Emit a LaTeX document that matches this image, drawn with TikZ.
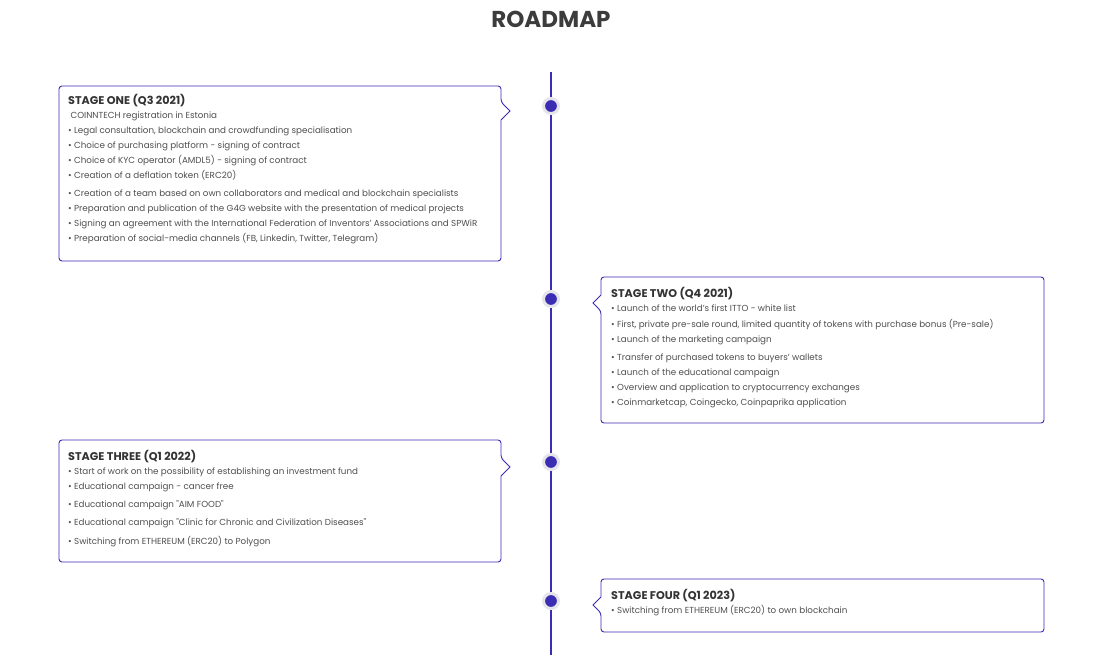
\documentclass[tikz,border=0pt]{standalone}
\usepackage{fontspec}
\setmainfont{Poppins}
\definecolor{navy}{HTML}{3A2DB3}
\definecolor{halo}{HTML}{E4E4EA}
\definecolor{titlegray}{HTML}{3C3C3C}
\definecolor{headgray}{HTML}{333333}
\definecolor{bodygray}{HTML}{4F4F4F}
\begin{document}
\begin{tikzpicture}[x=1pt,y=-1pt,
  body/.style={anchor=base west, inner sep=0pt, font=\fontsize{8.75}{10}\selectfont, text=bodygray},
  head/.style={anchor=base west, inner sep=0pt, font=\fontsize{11.2}{13}\selectfont\bfseries, text=headgray},
  boxline/.style={draw=navy, line width=0.9pt, fill=white, line join=miter},
  dot/.style={circle, fill=navy, draw=halo, line width=3pt, minimum size=15pt, inner sep=0pt},
  axis/.style={draw=navy, line width=1.4pt}]
\useasboundingbox (0,0) rectangle (1104,655);
\fill[white] (0,0) rectangle (1104,655);
\node[font=\fontsize{23}{27}\selectfont\bfseries, text=titlegray, inner sep=0pt] (title) at (551,19) {ROADMAP};
% timeline
\coordinate (top) at (551,72);
\coordinate (bottom) at (551,655);
\draw[axis] (top) -- (bottom);
\node[dot] (d1) at (551,106) {};
\node[dot] (d2) at (551,299) {};
\node[dot] (d3) at (551,462) {};
\node[dot] (d4) at (551,601) {};
% boxes
\draw[boxline, rounded corners=3pt] (59,86) -- (501,86) -- (501,102) [sharp corners] -- (510,111) -- (501,120) [rounded corners=3pt] -- (501,261) -- (59,261) -- cycle;
\draw[boxline, rounded corners=3pt] (601,277) -- (1044,277) -- (1044,423) -- (601,423) -- (601,311) [sharp corners] -- (593,303) -- (601,295) [rounded corners=3pt] -- cycle;
\draw[boxline, rounded corners=3pt] (59,440) -- (501,440) -- (501,458) [sharp corners] -- (510,467) -- (501,476) [rounded corners=3pt] -- (501,562) -- (59,562) -- cycle;
\draw[boxline, rounded corners=3pt] (601,579) -- (1044,579) -- (1044,632) -- (601,632) -- (601,613) [sharp corners] -- (593,605) -- (601,597) [rounded corners=3pt] -- cycle;
% stage one
\node[head] (h1) at (68,105) {STAGE ONE (Q3 2021)};
\node[body] (a1) at (68,119) {\ COINNTECH registration in Estonia};
\node[body] (a2) at (68,134) {• Legal consultation, blockchain and crowdfunding specialisation};
\node[body] (a3) at (68,149) {• Choice of purchasing platform - signing of contract};
\node[body] (a4) at (68,164) {• Choice of KYC operator (AMDL5) - signing of contract};
\node[body] (a5) at (68,179) {• Creation of a deflation token (ERC20)};
\node[body] (a6) at (68,197) {• Creation of a team based on own collaborators and medical and blockchain specialists};
\node[body] (a7) at (68,212) {• Preparation and publication of the G4G website with the presentation of medical projects};
\node[body] (a8) at (68,227) {• Signing an agreement with the International Federation of Inventors’ Associations and SPWiR};
\node[body] (a9) at (68,242) {• Preparation of social-media channels (FB, Linkedin, Twitter, Telegram)};
% stage two
\node[head] (h2) at (611,298) {STAGE TWO (Q4 2021)};
\node[body] (b1) at (611,312) {• Launch of the world’s first ITTO - white list};
\node[body] (b2) at (611,327) {• First, private pre-sale round, limited quantity of tokens with purchase bonus (Pre-sale)};
\node[body] (b3) at (611,342) {• Launch of the marketing campaign};
\node[body] (b4) at (611,360) {• Transfer of purchased tokens to buyers’ wallets};
\node[body] (b5) at (611,375) {• Launch of the educational campaign};
\node[body] (b6) at (611,390) {• Overview and application to cryptocurrency exchanges};
\node[body] (b7) at (611,405) {• Coinmarketcap, Coingecko, Coinpaprika application};
% stage three
\node[head] (h3) at (68,460) {STAGE THREE (Q1 2022)};
\node[body] (c1) at (68,474) {• Start of work on the possibility of establishing an investment fund};
\node[body] (c2) at (68,489) {• Educational campaign - cancer free};
\node[body] (c3) at (68,507) {• Educational campaign \textquotedbl AIM FOOD\textquotedbl};
\node[body] (c4) at (68,525) {• Educational campaign \textquotedbl Clinic for Chronic and Civilization Diseases\textquotedbl};
\node[body] (c5) at (68,544) {• Switching from ETHEREUM (ERC20) to Polygon};
% stage four
\node[head] (h4) at (611,599) {STAGE FOUR (Q1 2023)};
\node[body] (e1) at (611,613) {• Switching from ETHEREUM (ERC20) to own blockchain};
\end{tikzpicture}
\end{document}
